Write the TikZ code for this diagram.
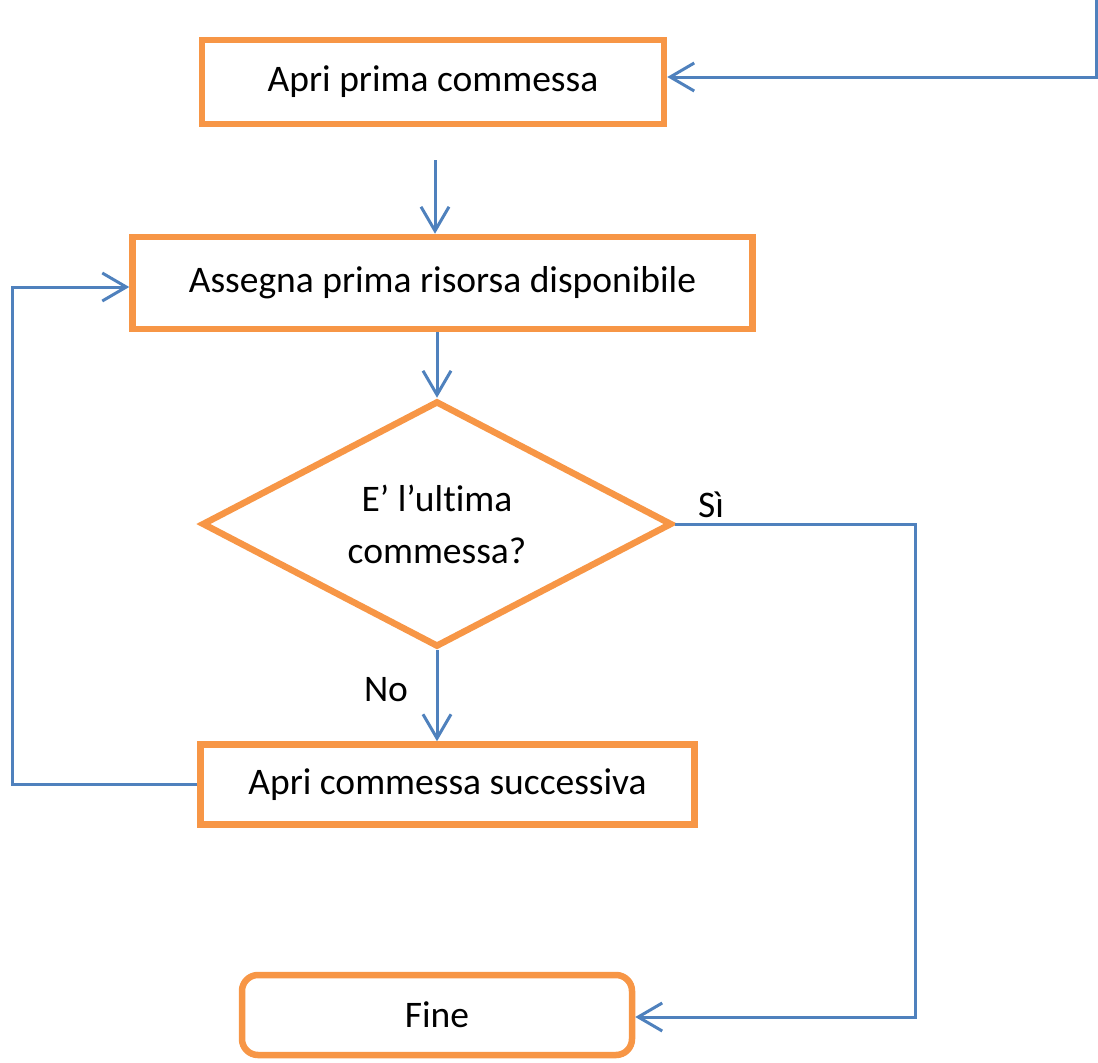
\documentclass[tikz,border=0pt]{standalone}
\usepackage{fontspec}
\setmainfont[Ligatures=NoCommon]{Carlito}
\usetikzlibrary{shapes.geometric,arrows.meta}
\definecolor{boxorange}{HTML}{F79646}
\definecolor{flowblue}{HTML}{4F81BD}
\begin{document}
\begin{tikzpicture}[x=1pt,y=-1pt,
  font=\fontsize{37.5}{44}\selectfont,
  stepbox/.style={draw=boxorange,line width=6.5pt,rectangle,inner sep=0pt},
  endbox/.style={stepbox,rounded corners=16pt},
  testbox/.style={draw=boxorange,line width=6.5pt,diamond,aspect=1.9,
    minimum width=470pt,minimum height=246pt,inner sep=0pt,align=center},
  flow/.style={draw=flowblue,line width=3pt,
    -{Straight Barb[length=24pt,width=28pt,line width=3pt]}},
  lbl/.style={inner sep=0pt}]
\useasboundingbox (0,0) rectangle (1098,1063);

% process steps
\node[stepbox,minimum width=462pt,minimum height=84pt] (open1) at (433,82) {Apri prima commessa};
\node[stepbox,minimum width=620pt,minimum height=92pt] (assign) at (442.5,283) {Assegna prima risorsa disponibile};
\node[testbox] (last) at (437,524) {E’ l’ultima\\[8pt]commessa?};
\node[stepbox,minimum width=494pt,minimum height=80pt] (next) at (447.5,784.5) {Apri commessa successiva};
\node[endbox,minimum width=390pt,minimum height=80pt] (fine) at (437,1015) {Fine};

% free ends
\coordinate (entry) at (1096,0);
\coordinate (gap) at (435,160);
\coordinate (rightx) at (915,0);
\coordinate (leftx) at (12,0);

% connectors
\draw[flow] (entry) |- ([yshift=5pt]open1.east);
\draw[flow] (gap) -- (gap |- assign.north);
\draw[flow] (last.north |- assign.south) -- (last.north);
\draw[flow] (last.south) -- (last.south |- next.north);
\draw[flow] (last.east) -| (rightx |- last.east) |- ([yshift=-2pt]fine.east);
\draw[flow] (next.west) -| (leftx |- next.west) |- ([yshift=-4pt]assign.west);

% branch labels
\node[lbl] (yes) at (711,505) {Sì};
\node[lbl] (no) at (386,690) {No};
\end{tikzpicture}
\end{document}
